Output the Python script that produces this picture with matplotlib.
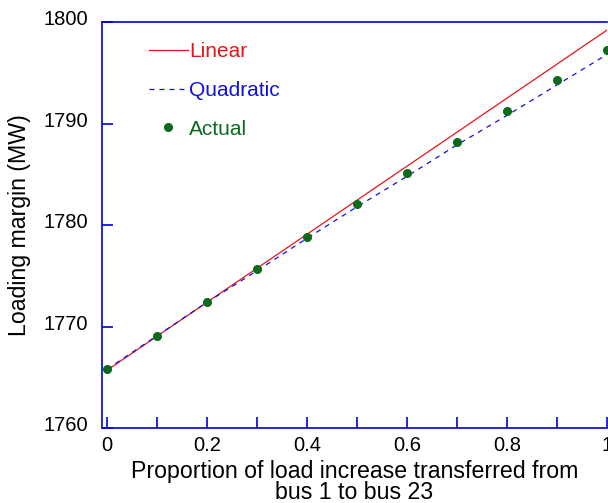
import numpy as np
import matplotlib.pyplot as plt
from matplotlib.transforms import ScaledTranslation

plt.rcParams['font.family'] = ['Liberation Sans', 'DejaVu Sans']

# values
prop = [0.0, 0.1, 0.2, 0.3, 0.4, 0.5, 0.6, 0.7, 0.8, 0.9, 1.0]
actual = [1765.8, 1769.1, 1772.4, 1775.7, 1778.8, 1782.1, 1785.1, 1788.2, 1791.2, 1794.25, 1797.25]
quad = [1765.8, 1769.1, 1772.4, 1775.5, 1778.7, 1781.8, 1784.8, 1787.9, 1790.8, 1793.8, 1796.8]
lin_x = [0.0, 1.0]
lin_y = [1765.7, 1799.2]

f = plt.figure(figsize=(6.08, 5.03), dpi=100)
ax = f.add_axes([0.168, 0.149, 0.830, 0.807])

ax.plot(lin_x, lin_y, color='#e8141c', lw=0.9, label='Linear')
ax.plot(prop, quad, color='#1010e0', lw=0.9, ls=(0, (4, 4)), label='Quadratic')
ax.plot(prop, actual, 'o', color='#0b6a1c', ms=5.5, ls='none', label='Actual')

ax.set_xlim(-0.01, 1.0)
ax.set_ylim(1760, 1800)
ax.set_xticks(np.arange(0, 1.01, 0.2))
ax.set_xticklabels(['0', '0.2', '0.4', '0.6', '0.8', '1'])
ax.set_xticks(np.arange(0, 1.01, 0.1), minor=True)
ax.set_yticks([1760, 1770, 1780, 1790, 1800])

for side in ['left', 'bottom', 'top']:
    ax.spines[side].set_color('#0000dd')
    ax.spines[side].set_linewidth(1.2)
ax.spines['right'].set_visible(False)

ax.tick_params(which='both', direction='in', color='#0000dd', width=1.2, labelsize=14.5)
ax.tick_params(which='both', length=8)
ax.tick_params(axis='x', pad=6)
ax.tick_params(axis='y', pad=10)
# y labels sit a little above their ticks in the reference
shift = ScaledTranslation(0, 3 / 72, f.dpi_scale_trans)
for lbl in ax.get_yticklabels():
    lbl.set_transform(lbl.get_transform() + shift)

ax.set_xlabel('Proportion of load increase transferred from\nbus 1 to bus 23', fontsize=16.7, labelpad=3, linespacing=0.9)
ax.set_ylabel('Loading margin (MW)', fontsize=16.7, labelpad=9)

leg = ax.legend(loc='upper left', frameon=False, fontsize=15, handlelength=1.9,
                handletextpad=0.05, labelspacing=0.95, bbox_to_anchor=(0.055, 0.997))
for t, c in zip(leg.get_texts(), ['#e8141c', '#1010e0', '#0b6a1c']):
    t.set_color(c)

f.savefig('out.png', dpi=100)
